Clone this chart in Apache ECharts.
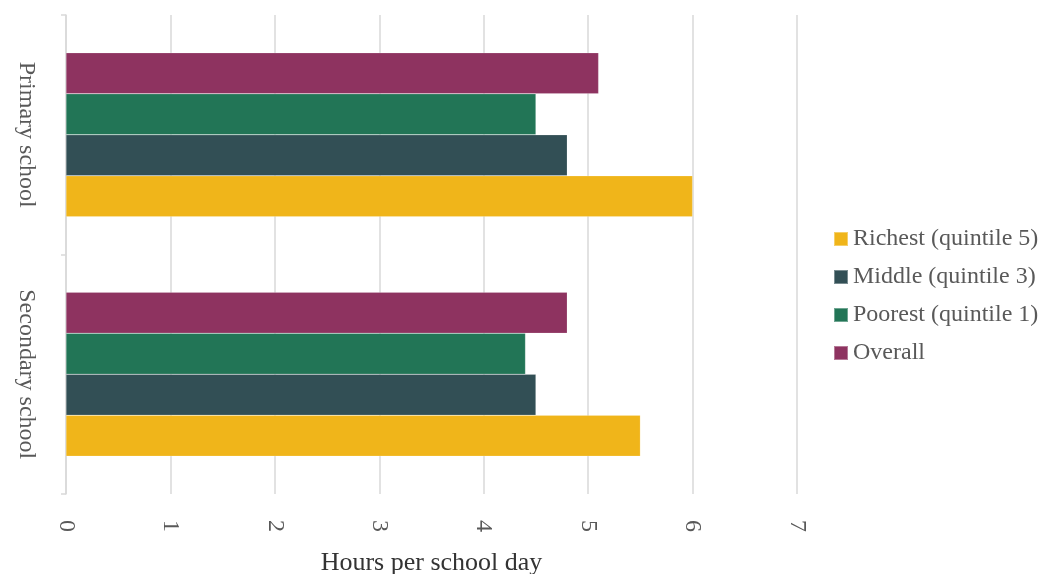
<!DOCTYPE html>
<html><head><meta charset="utf-8">
<script src="https://cdn.jsdelivr.net/npm/echarts@6/dist/echarts.min.js"></script>
<style>html,body{margin:0;padding:0;background:#fff}#c{width:1040px;height:574px}</style>
</head><body><div id="c"></div>
<script>
const categories = ['Secondary school', 'Primary school'];
const richest = [5.5, 6.0];
const middle = [4.5, 4.8];
const poorest = [4.4, 4.5];
const overall = [4.8, 5.1];
const xTicks = [0, 1, 2, 3, 4, 5, 6, 7];

const font = 'Liberation Serif, Times New Roman, serif';
const txt = '#595959';
const mk = (name, data, color) => ({
  name, type: 'bar', data, barWidth: 41, barGap: '0%',
  itemStyle: { color, borderColor: 'rgba(255,255,255,0.35)', borderWidth: 0.5 }
});
const chart = echarts.init(document.getElementById('c'));
chart.setOption({
  animation: false,
  grid: { left: 66, right: 243, top: 15, bottom: 80, containLabel: false, outerBoundsMode: 'none' },
  legend: {
    orient: 'vertical', left: 828, top: 222, itemWidth: 14, itemHeight: 14, itemGap: 14,
    icon: 'rect',
    textStyle: { fontFamily: font, fontSize: 24, color: txt },
    data: ['Richest (quintile 5)', 'Middle (quintile 3)', 'Poorest (quintile 1)', 'Overall']
  },
  xAxis: {
    type: 'value', min: xTicks[0], max: xTicks[xTicks.length - 1], interval: 1,
    name: 'Hours per school day', nameLocation: 'middle', nameGap: 56,
    nameTextStyle: { fontFamily: font, fontSize: 26, color: '#333' },
    axisLine: { show: false }, axisTick: { show: false },
    axisLabel: { rotate: -90, fontFamily: font, fontSize: 24, color: txt, margin: 26 },
    splitLine: { show: true, lineStyle: { color: '#d9d9d9', width: 1.5 } }
  },
  yAxis: {
    type: 'category', data: categories,
    axisLine: { show: true, lineStyle: { color: '#d9d9d9', width: 1.5 } },
    axisTick: { show: true, length: 5, lineStyle: { color: '#d9d9d9', width: 1.5 } },
    axisLabel: { rotate: -90, fontFamily: font, fontSize: 24, color: txt, margin: 28 }
  },
  series: [
    mk('Overall', overall, '#8E3360'),
    mk('Poorest (quintile 1)', poorest, '#227556'),
    mk('Middle (quintile 3)', middle, '#324F55'),
    mk('Richest (quintile 5)', richest, '#F0B51A')
  ]
});
</script></body></html>
